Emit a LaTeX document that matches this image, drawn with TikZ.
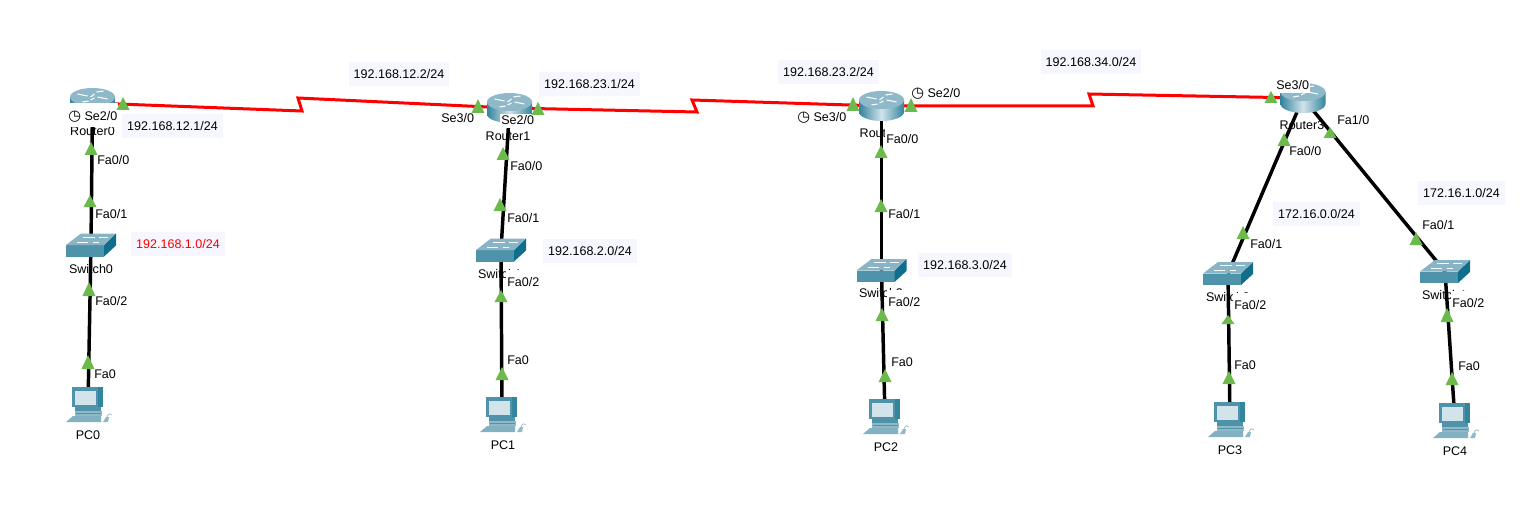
\documentclass[tikz,border=0pt]{standalone}
\usepackage{fontspec}
\setmainfont{Liberation Sans}
\newfontfamily\clockfont{DejaVu Sans}
\usetikzlibrary{arrows.meta,positioning,calc}
\definecolor{teal}{HTML}{4F93AB}
\definecolor{tealdark}{HTML}{0F6E8C}
\definecolor{teallight}{HTML}{8FB8C8}
\definecolor{screen}{HTML}{D2E3EA}
\definecolor{portgreen}{HTML}{6CB94C}
\definecolor{netfill}{HTML}{F5F6FE}
\newcommand{\clockmark}{{\clockfont\fontsize{11pt}{11pt}\selectfont\char"25F7}\ }
\tikzset{
  serial/.style={red,line width=2.25pt},
  lan/.style={black,line width=2.6pt},
  hostlbl/.style={inner sep=0pt,font=\fontsize{9.4pt}{11pt}\selectfont},
  portlbl/.style={fill=white,anchor=base west,inner ysep=0pt,inner xsep=.75pt,text height=12.4pt,text depth=2.6pt,font=\fontsize{9.4pt}{11pt}\selectfont},
  portthin/.style={text height=8pt,text depth=2.6pt},
  netlbl/.style={fill=netfill,minimum height=18pt,inner xsep=3.6pt,inner ysep=0pt,font=\fontsize{9.4pt}{11pt}\selectfont},
  routerpic/.pic={
    \shade[left color=tealdark!85,right color=tealdark!85,middle color=screen] (-22.5,-6)--(-22.5,6) arc[start angle=180,end angle=0,x radius=22.5,y radius=9]--(22.5,-6)--cycle;
    \fill[teallight] (0,-6) ellipse[x radius=22.5,y radius=9];
    \draw[white,line width=.8pt] (-15,-9)--(-5,-7) (15,-4)--(5,-6) (-4,-2)--(-10,-1) (4,-11)--(11,-12) (-2,-6)--(2,-9) (2,-5)--(-2,-3);
  },
  switchpic/.pic={
    \fill[teal] (-25,0) rectangle (13,11.5);
    \fill[tealdark] (13,0)--(25,-11.5)--(25,.5)--(13,11.5)--cycle;
    \fill[teallight!90!teal] (-25,0)--(-10,-11.5)--(25,-11.5)--(13,0)--cycle;
    \draw[white,line width=.7pt] (-8,-8)--(4,-8) (8,-8)--(17,-8) (-14,-3)--(-3,-3) (2,-3)--(8,-3);
  },
  pcpic/.pic={
    \fill[tealdark!85] (-16,-18) rectangle (15,2);
    \fill[teal] (-16,-18) rectangle (10,2);
    \fill[screen] (-13,-14.5) rectangle (8,0);
    \fill[teal] (-13,2) rectangle (13,6);
    \fill[teallight] (-13,6) rectangle (14,11);
    \draw[teal,line width=.6pt] (-12,8.5)--(13,8.5);
    \fill[teallight!80!teal] (-22,17)--(-15,11)--(13,11)--(13,17)--cycle;
    \fill[teallight] (15,17)--(18,12)--(21,12)--(20,17)--cycle;
    \draw[teallight,line width=.5pt] (19,12) .. controls (20,8) and (23,8) .. (24,10);
  }
}
\begin{document}
\begin{tikzpicture}[x=.75pt,y=-.75pt]
\useasboundingbox (0,0) rectangle (1538,531);
% devices
\coordinate (r0) at (92.5,103);\coordinate (r1) at (509.5,108);\coordinate (r2) at (881.5,106);\coordinate (r3) at (1303,98);
\coordinate (sw0) at (91,245);\coordinate (sw1) at (501,250);\coordinate (sw2) at (881.5,270.5);\coordinate (sw3) at (1228,273.5);\coordinate (sw4) at (1445,271.5);
\coordinate (pc0) at (88,405);\coordinate (pc1) at (502,415);\coordinate (pc2) at (885,417);\coordinate (pc3) at (1230,420);\coordinate (pc4) at (1455,421);
\coordinate (za) at (302,111);\coordinate (zb) at (298,98);
\coordinate (zc) at (697,112);\coordinate (zd) at (692,100);
\coordinate (ze) at (1093,106);\coordinate (zf) at (1089,94);
% names under the devices
\foreach \n/\x/\y/\t in {lr0/92.5/131/Router0,lr1/508/136/Router1,lr2/882/133/Router2,lr3/1302/125/Router3,
  ls0/91/269/Switch0,ls1/500/274/Switch1,ls2/881/293.5/Switch2,ls3/1228/297/Switch3,ls4/1444/295/Switch4,
  lp0/88/435/PC0,lp1/503/445/PC1,lp2/886/447/PC2,lp3/1230/450/PC3,lp4/1455/451/PC4}
  \node[hostlbl] (\n) at (\x,\y) {\t};
% links
\draw[serial] (r0)--(za)--(zb)--(r1);
\draw[serial] (r1)--(zc)--(zd)--(r2);
\draw[serial] (r2)--(ze)--(zf)--(r3);
\draw[lan] (r0)--(sw0);\draw[lan] (sw0)--(pc0);
\draw[lan] (r1)--(sw1);\draw[lan] (sw1)--(pc1);
\draw[lan] (r2)--(sw2);\draw[lan] (sw2)--(pc2);
\draw[lan] (r3)--(sw3);\draw[lan] (sw3)--(pc3);
\draw[lan] (r3)--(sw4);\draw[lan] (sw4)--(pc4);
\foreach \d in {r0,r1,r2,r3} \pic at (\d) {routerpic};
\foreach \d in {sw0,sw1,sw2,sw3,sw4} \pic at (\d) {switchpic};
\foreach \d in {pc0,pc1,pc2,pc3,pc4} \pic at (\d) {pcpic};
% ports
\foreach \n/\x/\y/\t in {a0/96/160/{Fa0/0},b0/94/214/{Fa0/1},c0/94/301/{Fa0/2},d0/93/374/Fa0,
  a1/509/166/{Fa0/0},b1/506/218/{Fa0/1},c1/506/282/{Fa0/2},d1/506/360/Fa0,
  a2/885/139/{Fa0/0},b2/887/214/{Fa0/1},c2/887/302/{Fa0/2},d2/890/362/Fa0,
  a3/1288/151/{Fa0/0},b3/1249/244/{Fa0/1},c3/1233/305/{Fa0/2},d3/1233/365/Fa0,
  a4/1336/120/{Fa1/0},b4/1421/225/{Fa0/1},c4/1451/303/{Fa0/2},d4/1457/366/Fa0}
  \node[portlbl] (\n) at (\x,\y+4.5) {\t};
\node[portlbl,text height=13pt,text depth=4.9pt] (r0se) at (67,120.5) {\clockmark Se2/0};
\node[portlbl,fill=none] (r1sw) at (440,122.5) {Se3/0};
\node[portlbl,portthin] (r1se) at (500,124.5) {Se2/0};
\node[portlbl,fill=none] (r2sw) at (796,121.5) {\clockmark Se3/0};
\node[portlbl,fill=none] (r2se) at (910,97.5) {\clockmark Se2/0};
\node[portlbl,portthin] (r3sw) at (1275,89.5) {Se3/0};
% link lights
\foreach \x/\t/\b in {123/97/110,91/142/155,90/195/207,89/282/296,88/355/369,
  478/99/113,538/102/115,503/147/160,500/198/211,501/290/302,502/367/380,
  853/97/111,911/98/112,881/145/158,881/199/212,882/308/321,885/369/382,
  1271/91/103,1284/133/146,1330/127/138,1243/226/239,1228/315/324,1229/371/384,
  1416/232/245,1447/308/322,1452/372/385}
  \fill[portgreen] (\x,\t)--(\x+6.5,\b)--(\x-6.5,\b)--cycle;
% networks
\node[netlbl] (n12b) at (399,74) {192.168.12.2/24};
\node[netlbl] (n12a) at (172.5,126) {192.168.12.1/24};
\node[netlbl] (n23a) at (589.5,84) {192.168.23.1/24};
\node[netlbl] (n23b) at (828.5,72) {192.168.23.2/24};
\node[netlbl] (n34) at (1091,62) {192.168.34.0/24};
\node[netlbl,text=red] (n1) at (178,244) {192.168.1.0/24};
\node[netlbl] (n2) at (590,251) {192.168.2.0/24};
\node[netlbl] (n3) at (965,265) {192.168.3.0/24};
\node[netlbl] (n160) at (1316.5,214) {172.16.0.0/24};
\node[netlbl] (n161) at (1461.5,193) {172.16.1.0/24};
\end{tikzpicture}
\end{document}
